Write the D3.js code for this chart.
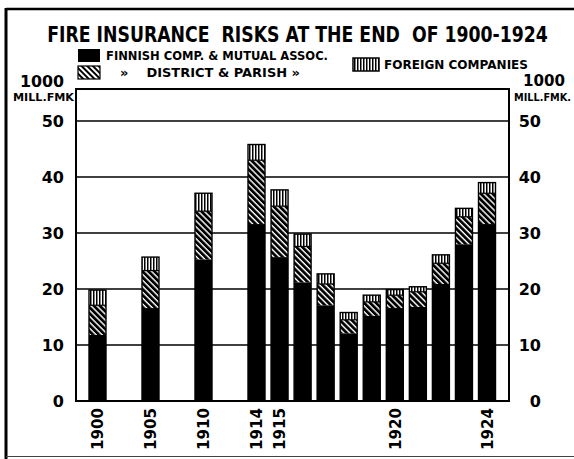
<!DOCTYPE html>
<html><head><meta charset="utf-8">
<script src="https://cdn.jsdelivr.net/npm/d3@7"></script>
<style>
html,body{margin:0;padding:0;background:#fff;}
svg{display:block;}
text{font-family:"DejaVu Sans","Liberation Sans",sans-serif;font-weight:bold;fill:#000;}
</style></head>
<body>
<script>
const years = [1900,1905,1910,1914,1915,1916,1917,1918,1919,1920,1921,1922,1923,1924];
const finnish  = [11.8,16.6,25.3,31.6,25.7,21.2,17.1,12.1,15.2,16.6,16.8,20.9,28.0,31.6];
const district = [5.3,6.7,8.6,11.4,9.1,6.4,3.8,2.4,2.5,2.3,2.7,3.7,4.9,5.5];
const foreign  = [2.7,2.4,3.2,2.8,2.9,2.2,1.8,1.3,1.2,1.0,0.9,1.5,1.5,1.9];
const yTicks = [0,10,20,30,40,50];
const xTickLabels = [1900,1905,1910,1914,1915,1920,1924];
const seriesKeys = ["finnish","district","foreign"];
const legendLabels = ["FINNISH COMP. & MUTUAL ASSOC.","»    DISTRICT & PARISH »","FOREIGN COMPANIES"];
const titleText = "FIRE INSURANCE  RISKS AT THE END  OF 1900-1924";

const W=574,H=459;
const svg=d3.select("body").append("svg").attr("width",W).attr("height",H);
const defs=svg.append("defs");
const ph=defs.append("pattern").attr("id","hatch").attr("patternUnits","userSpaceOnUse")
  .attr("width",4.2).attr("height",4.2).attr("patternTransform","rotate(45)");
ph.append("rect").attr("width",4.2).attr("height",4.2).attr("fill","#000");
ph.append("rect").attr("y",0).attr("width",4.2).attr("height",1.4).attr("fill","#fff");
const pl=defs.append("pattern").attr("id","hatchL").attr("patternUnits","userSpaceOnUse")
  .attr("width",4).attr("height",4).attr("patternTransform","rotate(45)");
pl.append("rect").attr("width",4).attr("height",4).attr("fill","#fff");
pl.append("rect").attr("y",0).attr("width",4).attr("height",2).attr("fill","#000");
const pv=defs.append("pattern").attr("id","vstripe").attr("patternUnits","userSpaceOnUse")
  .attr("width",3).attr("height",3);
pv.append("rect").attr("width",3).attr("height",3).attr("fill","#fff");
pv.append("rect").attr("x",0).attr("width",1.5).attr("height",3).attr("fill","#000");
const fills={finnish:"#000",district:"url(#hatch)",foreign:"url(#vstripe)"};

svg.append("line").attr("x1",6).attr("x2",W).attr("y1",9).attr("y2",9).attr("stroke","#000").attr("stroke-width",2.5);
svg.append("line").attr("x1",6).attr("x2",6).attr("y1",8).attr("y2",H).attr("stroke","#000").attr("stroke-width",3);
svg.append("line").attr("x1",6).attr("x2",W).attr("y1",456.5).attr("y2",456.5).attr("stroke","#444").attr("stroke-width",1.2);

const plotL=76, plotR=509, plotT=89;
const y=d3.scaleLinear().domain([0,50]).range([401,121]);
const x=d3.scaleLinear().domain([1900,1910,1914,1924]).range([97.5,203.5,256.5,487]);
const bw=17;

svg.append("g").selectAll("line").data(yTicks.filter(d=>d>0)).join("line")
  .attr("x1",plotL).attr("x2",plotR).attr("y1",d=>y(d)).attr("y2",d=>y(d))
  .attr("stroke","#000").attr("stroke-width",1.5);

const table=years.map((yr,i)=>({year:yr,finnish:finnish[i],district:district[i],foreign:foreign[i]}));
const stack=d3.stack().keys(seriesKeys)(table);
svg.append("g").selectAll("g").data(stack).join("g")
  .attr("fill",d=>fills[d.key])
  .selectAll("rect").data(d=>d).join("rect")
  .attr("x",d=>x(d.data.year)-bw/2).attr("width",bw)
  .attr("y",d=>y(d[1])).attr("height",d=>y(d[0])-y(d[1]));
svg.append("g").selectAll("rect").data(table).join("rect")
  .attr("x",d=>x(d.year)-bw/2).attr("width",bw)
  .attr("y",d=>y(d.finnish+d.district+d.foreign)).attr("height",d=>y(0)-y(d.finnish+d.district+d.foreign))
  .attr("fill","none").attr("stroke","#000").attr("stroke-width",1.4);
svg.append("g").selectAll("line").data(table).join("line")
  .attr("x1",d=>x(d.year)-bw/2).attr("x2",d=>x(d.year)+bw/2)
  .attr("y1",d=>y(d.finnish+d.district)).attr("y2",d=>y(d.finnish+d.district))
  .attr("stroke","#000").attr("stroke-width",1.2);

svg.append("rect").attr("x",plotL).attr("y",plotT).attr("width",plotR-plotL).attr("height",y(0)-plotT)
  .attr("fill","none").attr("stroke","#000").attr("stroke-width",2);

svg.append("g").selectAll("text").data(yTicks).join("text")
  .attr("x",64).attr("y",d=>y(d)).attr("dy","0.36em").attr("text-anchor","end")
  .attr("font-size",16).text(d=>d);
svg.append("g").selectAll("text").data(yTicks).join("text")
  .attr("x",541).attr("y",d=>y(d)).attr("dy","0.36em").attr("text-anchor","end")
  .attr("font-size",16).text(d=>d);
svg.append("text").attr("x",20).attr("y",87).attr("font-size",16).attr("textLength",44).attr("lengthAdjust","spacingAndGlyphs").text("1000");
svg.append("text").attr("x",13).attr("y",101).attr("font-size",10).attr("textLength",61).attr("lengthAdjust","spacingAndGlyphs").text("MILL.FMK");
svg.append("text").attr("x",523).attr("y",86).attr("font-size",16).attr("textLength",42).attr("lengthAdjust","spacingAndGlyphs").text("1000");
svg.append("text").attr("x",514).attr("y",101).attr("font-size",10).attr("textLength",57).attr("lengthAdjust","spacingAndGlyphs").text("MILL.FMK.");

svg.append("g").selectAll("text").data(xTickLabels).join("text")
  .attr("transform",d=>`translate(${x(d)},408) rotate(-90)`)
  .attr("text-anchor","end").attr("dy","0.36em").attr("font-size",16)
  .attr("textLength",42).attr("lengthAdjust","spacingAndGlyphs").text(d=>d);

const title=svg.append("text").attr("text-anchor","middle").attr("font-size",22)
  .style("white-space","pre").text(titleText);
const tl=title.node().getComputedTextLength();
title.attr("transform",`translate(297.5,42) scale(${501/tl},1)`);

svg.append("rect").attr("x",78).attr("y",49).attr("width",22).attr("height",13).attr("fill","#000");
svg.append("rect").attr("x",78).attr("y",66).attr("width",22).attr("height",13).attr("fill","url(#hatchL)").attr("stroke","#000").attr("stroke-width",1.2);
svg.append("rect").attr("x",353).attr("y",58).attr("width",26).attr("height",13).attr("fill","url(#vstripe)").attr("stroke","#000").attr("stroke-width",1.5);
svg.append("text").attr("x",106).attr("y",60).attr("font-size",12).attr("textLength",222).attr("lengthAdjust","spacingAndGlyphs").text(legendLabels[0]);
svg.append("text").attr("x",120).attr("y",77).attr("font-size",12).attr("textLength",180).attr("lengthAdjust","spacingAndGlyphs").style("white-space","pre").text(legendLabels[1]);
svg.append("text").attr("x",384).attr("y",69).attr("font-size",12).attr("textLength",144).attr("lengthAdjust","spacingAndGlyphs").text(legendLabels[2]);
</script>
</body></html>
